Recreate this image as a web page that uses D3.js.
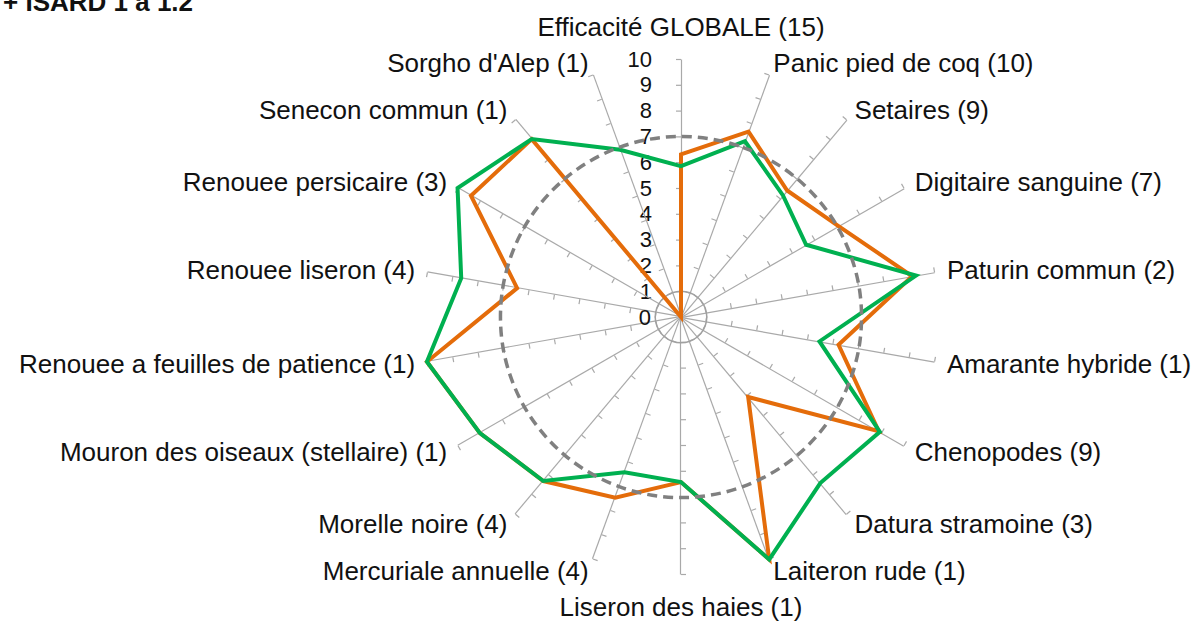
<html>
<head>
<title>Radar ISARD</title>
<meta charset="utf-8">
<script src="https://d3js.org/d3.v7.min.js"></script>
<style>
  body { margin: 0; background: #ffffff; }
  text { font-family: "Liberation Sans", Arial, sans-serif; }
</style>
</head>
<body>
<div id="radar"></div>

<script type="text/javascript">
    // categories, clockwise from the top
    var categories = ["Efficacité GLOBALE (15)", "Panic pied de coq (10)", "Setaires (9)",
        "Digitaire sanguine (7)", "Paturin commun (2)", "Amarante hybride (1)", "Chenopodes (9)",
        "Datura stramoine (3)", "Laiteron rude (1)", "Liseron des haies (1)", "Mercuriale annuelle (4)",
        "Morelle noire (4)", "Mouron des oiseaux (stellaire) (1)", "Renouee a feuilles de patience (1)",
        "Renouee liseron (4)", "Renouee persicaire (3)", "Senecon commun (1)", "Sorgho d'Alep (1)"];

    // series values
    var orangeValues = [6.3, 7.65, 6.4, 7.05, 9.1, 6.2, 8.85, 4.05, 10, 6.4, 7.45, 8.3, 9.0, 10, 6.45, 9.4, 9.0, 0];
    var greenValues  = [5.85, 7.25, 6.15, 5.6, 9.25, 5.45, 8.9, 8.4, 10, 6.4, 6.4, 8.3, 9.0, 10, 8.65, 10, 9.0, 6.9];
    // reference rings
    var ringOne   = [1, 1, 1, 1, 1, 1, 1, 1, 1, 1, 1, 1, 1, 1, 1, 1, 1, 1];
    var ringSeven = [7, 7, 7, 7, 7, 7, 7, 7, 7, 7, 7, 7, 7, 7, 7, 7, 7, 7];

    var tickValues = [0, 1, 2, 3, 4, 5, 6, 7, 8, 9, 10];
    var title = "+ ISARD 1 à 1.2";

    var w = 1199, h = 623;
    var cx = 681, cy = 317;   // centre of the radar
    var R = 258;              // radius of value 10
    var n = categories.length;

    var svg = d3.select("#radar").append("svg")
        .attr("width", w)
        .attr("height", h);

    var r = d3.scaleLinear().domain([0, 10]).range([0, R]);
    var rAxis = d3.scaleLinear().domain([0, 10]).range([0, -R]);
    var angle = function(i) { return i * 2 * Math.PI / n; };

    var g = svg.append("g").attr("transform", "translate(" + cx + "," + cy + ")");

    // spokes with tick marks, only the vertical one gets labels
    categories.forEach(function(c, i) {
        var ax = d3.axisLeft(rAxis).tickValues(tickValues.slice(1)).tickSize(5).tickSizeOuter(0);
        if (i == 0) ax.tickPadding(24).tickFormat(d3.format("d"));
        else ax.tickFormat("");
        var a = g.append("g")
            .attr("transform", "rotate(" + (i * 360 / n) + ")")
            .call(ax);
        a.select(".domain").attr("stroke", "#a9a9a9").attr("stroke-width", 1.2);
        a.selectAll(".tick line").attr("stroke", "#a9a9a9").attr("stroke-width", 1.2);
        a.selectAll(".tick text")
            .attr("font-size", 22)
            .attr("font-family", "'Liberation Sans', Arial, sans-serif")
            .attr("fill", "#111");
    });
    // zero label on vertical axis
    g.append("text")
        .attr("x", -30).attr("y", r(0))
        .attr("dy", "0.36em")
        .attr("text-anchor", "end")
        .attr("font-size", 22)
        .attr("fill", "#111")
        .text("0");

    var radial = function(curve) {
        return d3.lineRadial()
            .angle(function(d, i) { return angle(i); })
            .radius(function(d) { return r(d); })
            .curve(curve);
    };

    // inner ring at 1
    g.append("path")
        .attr("d", radial(d3.curveCardinalClosed)(ringOne))
        .attr("fill", "none")
        .attr("stroke", "#a0a0a0")
        .attr("stroke-width", 1.5);

    // series
    g.append("path")
        .attr("d", radial(d3.curveLinearClosed)(orangeValues))
        .attr("fill", "none")
        .attr("stroke", "#e46c0a")
        .attr("stroke-width", 4)
        .attr("stroke-linejoin", "miter");
    g.append("path")
        .attr("d", radial(d3.curveLinearClosed)(greenValues))
        .attr("fill", "none")
        .attr("stroke", "#00b050")
        .attr("stroke-width", 4)
        .attr("stroke-linejoin", "miter");

    // dashed ring at 7
    g.append("path")
        .attr("d", radial(d3.curveCardinalClosed)(ringSeven))
        .attr("fill", "none")
        .attr("stroke", "#808080")
        .attr("stroke-width", 3.5)
        .attr("stroke-dasharray", "10,6");

    // category labels
    g.selectAll(".cat")
        .data(categories)
        .enter()
        .append("text")
        .attr("class", "cat")
        .attr("font-size", 26)
        .attr("fill", "#111")
        .attr("dy", "0.35em")
        .attr("text-anchor", function(d, i) {
            var s = Math.sin(angle(i));
            if (Math.abs(s) < 0.1) return "middle";
            return s > 0 ? "start" : "end";
        })
        .attr("x", function(d, i) { return (R + 12) * Math.sin(angle(i)); })
        .attr("y", function(d, i) {
            var c = Math.cos(angle(i));
            var y = -(R + 12) * c;
            if (Math.abs(Math.sin(angle(i))) < 0.1) y -= 20 * c;
            return y;
        })
        .text(function(d) { return d; });

    // title, cut at the top edge
    svg.append("text")
        .attr("x", 3)
        .attr("y", 11)
        .attr("font-size", 26)
        .attr("font-weight", "bold")
        .attr("fill", "#111")
        .text(title);
</script>
</body>
</html>
